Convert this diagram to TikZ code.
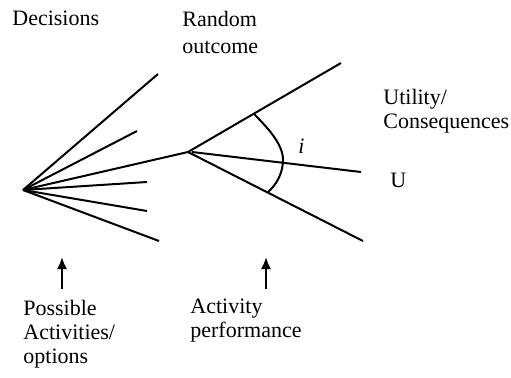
\documentclass[tikz,border=0pt]{standalone}
\usepackage{fontspec}
\setmainfont{Liberation Serif}
\usepackage{tikz}
\usetikzlibrary{arrows.meta}

\begin{document}
\begin{tikzpicture}[x=0.5pt, y=0.5pt,
    branch/.style={line width=1pt},
    txt/.style={anchor=base west, inner sep=0pt, align=left,
        font=\fontsize{11}{12}\selectfont},
    pointer/.style={line width=1pt, -{Latex[length=6pt, width=5pt]}}]
    \useasboundingbox (0,0) rectangle (511,377);

    % decision point and its options
    \coordinate (root) at (23,187);
    \coordinate (chance) at (188,225);
    \coordinate (d1) at (158,303);
    \coordinate (d2) at (137,246);
    \coordinate (d4) at (147,195);
    \coordinate (d5) at (147,166);
    \coordinate (d6) at (159,136);
    \foreach \d in {d1,d2,chance,d4,d5,d6}
        \draw[branch] (root) -- (\d);

    % random outcomes
    \coordinate (upper) at (341,314);
    \coordinate (midstart) at (192,225);
    \coordinate (middle) at (361,205);
    \coordinate (lower) at (363,136);
    \draw[branch] (chance) -- (upper);
    \draw[branch] (midstart) -- (middle);
    \draw[branch] (chance) -- (lower);

    % outcome arc
    \coordinate (arcA) at (254,263);
    \coordinate (arcB) at (283,215);
    \coordinate (arcC) at (268,185);
    \draw[branch] (arcA) .. controls (272,245) and (284,230) .. (arcB)
        .. controls (282,202) and (276,192) .. (arcC);
    \node[txt, font=\fontsize{11}{12}\selectfont\itshape] (idx) at (298,224) {i};

    % labels (base = last line)
    \node[txt] (decisions) at (12,352) {Decisions};
    \node[txt] (random) at (182,324) {Random\\[1.5pt]outcome};
    \node[txt] (utility) at (383,249) {Utility/\\Consequences};
    \node[txt] (util) at (390,190) {U};
    \node[txt] (possible) at (23,14) {Possible\\Activities/\\options};
    \node[txt] (activity) at (190,40) {Activity\\performance};

    % pointers
    \coordinate (p1) at (62,88);
    \coordinate (p1top) at (62,120);
    \coordinate (p2) at (266,88);
    \coordinate (p2top) at (266,120);
    \draw[pointer] (p1) -- (p1top);
    \draw[pointer] (p2) -- (p2top);
\end{tikzpicture}
\end{document}
